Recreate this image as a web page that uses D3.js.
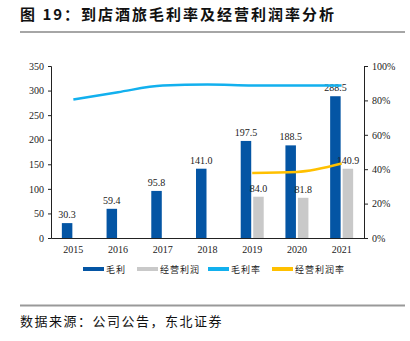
<!DOCTYPE html>
<html>
<head>
<meta charset="utf-8">
<script src="https://cdn.jsdelivr.net/npm/d3@7"></script>
<style>
  body { margin: 0; background: #fff; }
  svg { display: block; }
  .tick text { font-family: "Liberation Serif", serif; font-size: 10px; fill: #222; }
</style>
</head>
<body>
<div id="chart"></div>
<script>
var years = ['2015', '2016', '2017', '2018', '2019', '2020', '2021'];
var grossProfit = [30.3, 59.4, 95.8, 141.0, 197.5, 188.5, 288.5];
var opProfit = [null, null, null, null, 84.0, 81.8, 140.9];
var grossMargin = [80.5, 84.8, 88.6, 89.2, 88.7, 88.6, 88.6];
var opMargin = [null, null, null, null, 37.8, 38.4, 43.3];
var leftTicks = [0, 50, 100, 150, 200, 250, 300, 350];
var rightTicks = [0, 20, 40, 60, 80, 100];

var W = 410, H = 341;
var plotL = 51, plotR = 364, plotT = 66, plotB = 238;
var cjk = '"Noto Sans CJK SC", sans-serif';
var serif = '"Liberation Serif", serif';

var svg = d3.select('#chart').append('svg')
  .attr('width', W).attr('height', H);

// title + rules
svg.append('text')
  .attr('x', 20).attr('y', 20)
  .style('font-family', cjk).style('font-size', '15px').style('font-weight', 'bold')
  .style('letter-spacing', '2px').style('fill', '#111')
  .text('图 19：到店酒旅毛利率及经营利润率分析');
svg.append('line').attr('x1', 20).attr('x2', 405).attr('y1', 32).attr('y2', 32)
  .attr('stroke', '#888').attr('stroke-width', 1.5);
svg.append('line').attr('x1', 20).attr('x2', 405).attr('y1', 305.5).attr('y2', 305.5)
  .attr('stroke', '#999').attr('stroke-width', 2);
svg.append('text')
  .attr('x', 20).attr('y', 326)
  .style('font-family', cjk).style('font-size', '13px')
  .style('letter-spacing', '1.5px').style('fill', '#111')
  .text('数据来源：公司公告，东北证券');

var x = d3.scaleBand().domain(years).range([plotL, plotR]);
var y = d3.scaleLinear().domain([0, 350]).range([plotB, plotT]);
var y2 = d3.scaleLinear().domain([0, 100]).range([plotB, plotT]);

var barW = 10.5, gap = 2;

// axes
svg.append('g').attr('transform', 'translate(' + plotL + ',0)')
  .call(d3.axisLeft(y).tickValues(leftTicks).tickSize(3).tickPadding(4))
  .call(function(g) { g.selectAll('line, path').attr('stroke', '#222'); });
svg.append('g').attr('transform', 'translate(' + plotR + ',0)')
  .call(d3.axisRight(y2).tickValues(rightTicks).tickSize(4).tickPadding(4)
    .tickFormat(function(d) { return d + '%'; }))
  .call(function(g) { g.selectAll('line, path').attr('stroke', '#222'); });
svg.append('g').attr('transform', 'translate(0,' + plotB + ')')
  .call(d3.axisBottom(x).tickSize(0).tickPadding(8).tickSizeOuter(0))
  .call(function(g) { g.select('path').attr('stroke', '#222'); });

// bars
var cx = function(i) { return x(years[i]) + x.bandwidth() / 2; };
function bars(values, color, offset) {
  values.forEach(function(v, i) {
    if (v == null) return;
    var bx = cx(i) + offset;
    svg.append('rect').attr('x', bx).attr('width', barW)
      .attr('y', y(v)).attr('height', y(0) - y(v)).attr('fill', color);
    svg.append('text').attr('x', bx + barW / 2).attr('y', y(v) - 5)
      .attr('text-anchor', 'middle')
      .style('font-family', serif).style('font-size', '10px').style('fill', '#222')
      .text(v.toFixed(1));
  });
}
bars(grossProfit, '#0455A4', -gap / 2 - barW);
bars(opProfit, '#C9C9C9', gap / 2);

// lines
var line = d3.line()
  .defined(function(d) { return d != null; })
  .x(function(d, i) { return cx(i); })
  .y(function(d) { return y2(d); })
  .curve(d3.curveMonotoneX);
svg.append('path').datum(grossMargin).attr('d', line)
  .attr('fill', 'none').attr('stroke', '#12B0EE').attr('stroke-width', 2.5);
svg.append('path').datum(opMargin).attr('d', line)
  .attr('fill', 'none').attr('stroke', '#FFC000').attr('stroke-width', 2.5);

// legend
var legend = [
  { label: '毛利', color: '#0455A4', x: 83 },
  { label: '经营利润', color: '#C9C9C9', x: 137 },
  { label: '毛利率', color: '#12B0EE', x: 208 },
  { label: '经营利润率', color: '#FFC000', x: 272 }
];
var lg = svg.append('g').selectAll('g').data(legend).enter().append('g')
  .attr('transform', function(d) { return 'translate(' + d.x + ',269)'; });
lg.append('rect').attr('x', 0).attr('y', -2).attr('width', 21).attr('height', 4)
  .attr('fill', function(d) { return d.color; });
lg.append('text').attr('x', 23).attr('y', 3.5)
  .style('font-family', cjk).style('font-size', '9px').style('letter-spacing', '1px').style('fill', '#222')
  .text(function(d) { return d.label; });
</script>
</body>
</html>
